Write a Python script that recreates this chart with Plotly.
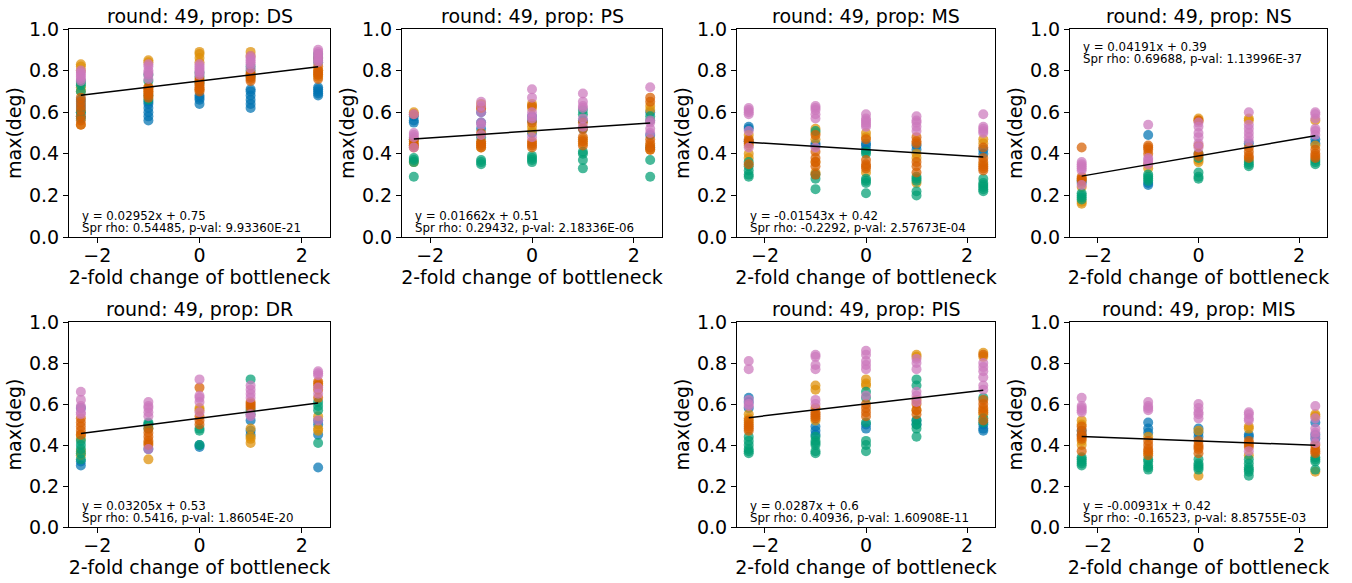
import plotly.graph_objects as go

# x positions: log2 fold change of bottleneck
X_VALUES = [-2.3219, -1.0, 0.0, 1.0, 2.3219]
X_TICKS = [-2, 0, 2]
Y_TICKS = [0.0, 0.2, 0.4, 0.6, 0.8, 1.0]

COLOR_NAMES = ["blue", "orange", "green", "red", "pink"]
COLORS = {"blue": "#0173b2", "orange": "#de8f05", "green": "#029e73",
          "red": "#d55e00", "pink": "#cc78bc"}

# ---- DS ----
DS_BLUE = [[0.58, 0.60, 0.62, 0.64, 0.66], [0.56, 0.58, 0.60, 0.62, 0.64, 0.65],
           [0.64, 0.66, 0.67, 0.68], [0.62, 0.64, 0.66, 0.68, 0.70, 0.71],
           [0.68, 0.69, 0.70, 0.71, 0.72]]
DS_ORANGE = [[0.54, 0.70, 0.72, 0.80, 0.83, 0.82], [0.85, 0.84, 0.72, 0.70],
             [0.89, 0.88, 0.86, 0.84, 0.71], [0.89, 0.87, 0.78], [0.77, 0.78, 0.80, 0.86]]
DS_GREEN = [[0.57, 0.60, 0.73, 0.74, 0.75, 0.70], [0.66, 0.68, 0.75, 0.78],
            [0.77, 0.79, 0.74], [0.80, 0.77, 0.82], [0.84, 0.86, 0.88]]
DS_RED = [[0.54, 0.56, 0.58, 0.61, 0.63, 0.65, 0.67], [0.67, 0.68, 0.69, 0.70, 0.71, 0.72],
          [0.70, 0.72, 0.73, 0.74, 0.75, 0.76, 0.71], [0.75, 0.76, 0.77, 0.78, 0.79],
          [0.76, 0.78, 0.79, 0.80, 0.82]]
DS_PINK = [[0.75, 0.77, 0.78, 0.79, 0.80, 0.76], [0.76, 0.78, 0.80, 0.82, 0.83, 0.79],
           [0.78, 0.80, 0.81, 0.82, 0.83, 0.79], [0.81, 0.83, 0.84, 0.85, 0.86, 0.87],
           [0.85, 0.86, 0.87, 0.88, 0.89, 0.90, 0.84]]

# ---- PS ----
PS_BLUE = [[0.58, 0.56, 0.55, 0.47], [0.55, 0.52, 0.60], [0.56, 0.58, 0.50],
           [0.52, 0.56], [0.43, 0.60, 0.49]]
PS_ORANGE = [[0.60, 0.46, 0.44, 0.36], [0.64, 0.62, 0.45, 0.43], [0.64, 0.62, 0.53, 0.51],
             [0.47, 0.45], [0.63, 0.61, 0.44, 0.42]]
PS_GREEN = [[0.37, 0.36, 0.29, 0.38], [0.37, 0.36, 0.35, 0.48], [0.39, 0.38, 0.37, 0.36],
            [0.61, 0.59, 0.41, 0.40, 0.37, 0.33], [0.37, 0.29, 0.56, 0.58]]
PS_RED = [[0.59, 0.47, 0.45, 0.43, 0.44], [0.44, 0.46, 0.45, 0.43, 0.50, 0.62],
          [0.46, 0.45, 0.44, 0.43, 0.63, 0.55], [0.44, 0.46, 0.48, 0.52, 0.55],
          [0.67, 0.65, 0.47, 0.45, 0.43, 0.42]]
PS_PINK = [[0.50, 0.49, 0.48, 0.43, 0.59], [0.65, 0.63, 0.60, 0.55, 0.54, 0.49],
           [0.71, 0.67, 0.60, 0.58, 0.57, 0.48], [0.69, 0.65, 0.63, 0.57, 0.53, 0.62],
           [0.72, 0.56, 0.55, 0.52, 0.50]]

# ---- MS ----
MS_BLUE = [[0.53, 0.52, 0.46], [0.44, 0.45], [0.45, 0.44, 0.42], [0.44, 0.42], [0.42, 0.40]]
MS_ORANGE = [[0.49, 0.44, 0.38, 0.40], [0.52, 0.50, 0.47, 0.31, 0.36], [0.48, 0.50, 0.31],
             [0.40, 0.26, 0.38], [0.47, 0.45, 0.35]]
MS_GREEN = [[0.36, 0.34, 0.32, 0.30, 0.29], [0.51, 0.30, 0.28, 0.23],
            [0.41, 0.40, 0.28, 0.27, 0.26, 0.21], [0.29, 0.28, 0.27, 0.20, 0.22],
            [0.28, 0.26, 0.25, 0.24, 0.23, 0.22]]
MS_RED = [[0.47, 0.46, 0.45, 0.35], [0.49, 0.41, 0.38, 0.36, 0.34, 0.30],
          [0.47, 0.37, 0.35, 0.34, 0.33], [0.48, 0.46, 0.45, 0.36, 0.34, 0.31],
          [0.43, 0.38, 0.36, 0.34, 0.33, 0.32]]
MS_PINK = [[0.62, 0.61, 0.60, 0.59, 0.51, 0.43], [0.63, 0.62, 0.61, 0.59, 0.57, 0.43],
           [0.59, 0.57, 0.56, 0.55, 0.54, 0.53], [0.58, 0.56, 0.55, 0.53, 0.51],
           [0.59, 0.53, 0.52, 0.51, 0.50]]

# ---- NS ----
NS_BLUE = [[0.26, 0.27], [0.49, 0.26, 0.25], [0.40], [0.45], [0.47, 0.45]]
NS_ORANGE = [[0.28, 0.24, 0.16, 0.17], [0.35, 0.33], [0.57, 0.56, 0.37, 0.36],
             [0.57, 0.56, 0.37], [0.56, 0.44]]
NS_GREEN = [[0.21, 0.20, 0.19, 0.18], [0.30, 0.29, 0.28, 0.27], [0.38, 0.31, 0.29, 0.28],
            [0.36, 0.35, 0.34], [0.37, 0.36, 0.35]]
NS_RED = [[0.43, 0.29, 0.28, 0.27], [0.44, 0.43, 0.42, 0.40], [0.44, 0.40, 0.39, 0.56],
          [0.43, 0.41, 0.39, 0.38], [0.42, 0.40, 0.39, 0.38]]
NS_PINK = [[0.36, 0.35, 0.34, 0.33, 0.32, 0.25], [0.54, 0.38, 0.37, 0.36, 0.35],
           [0.55, 0.53, 0.50, 0.48, 0.45, 0.43], [0.60, 0.54, 0.52, 0.50, 0.48, 0.46],
           [0.60, 0.59, 0.57, 0.52, 0.51, 0.49]]

# ---- DR ----
DR_BLUE = [[0.58, 0.30, 0.32], [0.38, 0.50], [0.40, 0.39], [0.47, 0.45, 0.52],
           [0.50, 0.45, 0.29, 0.52]]
DR_ORANGE = [[0.45, 0.43, 0.35, 0.37], [0.41, 0.33], [0.58, 0.57],
             [0.48, 0.44, 0.43, 0.41], [0.54, 0.48, 0.47, 0.70]]
DR_GREEN = [[0.42, 0.40, 0.38, 0.33, 0.36], [0.51, 0.50, 0.48], [0.47, 0.48, 0.40],
            [0.72, 0.57, 0.55], [0.61, 0.59, 0.57, 0.41]]
DR_RED = [[0.53, 0.51, 0.49, 0.47, 0.45], [0.48, 0.46, 0.44, 0.42, 0.40],
          [0.68, 0.54, 0.52, 0.50], [0.61, 0.60, 0.59, 0.58], [0.71, 0.69, 0.67, 0.63]]
DR_PINK = [[0.66, 0.62, 0.59, 0.58, 0.56, 0.55], [0.61, 0.59, 0.58, 0.56, 0.54, 0.38],
           [0.72, 0.64, 0.63, 0.61, 0.56], [0.69, 0.67, 0.65, 0.63, 0.55, 0.54],
           [0.76, 0.75, 0.74, 0.68, 0.65, 0.52]]

# ---- PIS ----
PIS_BLUE = [[0.63, 0.61, 0.58], [0.49, 0.47, 0.45], [0.48, 0.50], [0.50, 0.52],
            [0.48, 0.47, 0.50]]
PIS_ORANGE = [[0.55, 0.53, 0.51], [0.69, 0.67, 0.52], [0.72, 0.70, 0.69],
              [0.84, 0.83, 0.57], [0.85, 0.83, 0.57, 0.55]]
PIS_GREEN = [[0.44, 0.42, 0.40, 0.38, 0.37, 0.36], [0.44, 0.42, 0.41, 0.40, 0.37, 0.36],
             [0.66, 0.63, 0.51, 0.42, 0.40, 0.37], [0.72, 0.69, 0.52, 0.50, 0.48, 0.44],
             [0.63, 0.53, 0.51]]
PIS_RED = [[0.52, 0.50, 0.49, 0.48, 0.47], [0.58, 0.56, 0.55, 0.54, 0.53],
           [0.60, 0.58, 0.56, 0.54], [0.62, 0.60, 0.57, 0.55],
           [0.84, 0.62, 0.60, 0.58, 0.56, 0.52]]
PIS_PINK = [[0.81, 0.77, 0.62, 0.60, 0.59], [0.84, 0.83, 0.79, 0.77, 0.62, 0.60],
            [0.86, 0.84, 0.81, 0.79, 0.77, 0.64], [0.82, 0.80, 0.77, 0.66, 0.64, 0.61],
            [0.80, 0.78, 0.76, 0.73, 0.69, 0.67]]

# ---- MIS ----
MIS_BLUE = [[0.45, 0.47], [0.51, 0.48, 0.46], [0.48, 0.46, 0.44], [0.45, 0.44],
            [0.51, 0.45, 0.43]]
MIS_ORANGE = [[0.52, 0.50, 0.42, 0.40], [0.44, 0.36], [0.47, 0.25], [0.49, 0.48, 0.35],
              [0.55, 0.54, 0.27]]
MIS_GREEN = [[0.34, 0.33, 0.32, 0.31, 0.30], [0.33, 0.32, 0.30, 0.29, 0.28],
             [0.33, 0.31, 0.30, 0.29, 0.28], [0.33, 0.31, 0.29, 0.28, 0.27, 0.25],
             [0.34, 0.33, 0.32, 0.28]]
MIS_RED = [[0.49, 0.47, 0.45, 0.44, 0.43, 0.37], [0.42, 0.40, 0.38, 0.37, 0.35],
           [0.42, 0.40, 0.39, 0.38, 0.36], [0.42, 0.41, 0.40, 0.39], [0.40, 0.38, 0.37, 0.36]]
MIS_PINK = [[0.63, 0.59, 0.58, 0.57, 0.56], [0.61, 0.59, 0.58, 0.57],
            [0.60, 0.58, 0.56, 0.55, 0.53], [0.56, 0.55, 0.53, 0.52, 0.37],
            [0.59, 0.53, 0.48, 0.46, 0.44, 0.41]]

PROP_NAMES = ["DS", "PS", "MS", "NS", "DR", "PIS", "MIS"]
SLOPES = [0.02952, 0.01662, -0.01543, 0.04191, 0.03205, 0.0287, -0.00931]
INTERCEPTS = [0.75, 0.51, 0.42, 0.39, 0.53, 0.6, 0.42]
RHOS = [0.54485, 0.29432, -0.2292, 0.69688, 0.5416, 0.40936, -0.16523]
PVALS = [9.93360e-21, 2.18336e-06, 2.57673e-04, 1.13996e-37, 1.86054e-20,
         1.60908e-11, 8.85755e-03]
TEXT_AT_TOP = [False, False, False, True, False, False, False]

SERIES = {
    "DS": [DS_BLUE, DS_ORANGE, DS_GREEN, DS_RED, DS_PINK],
    "PS": [PS_BLUE, PS_ORANGE, PS_GREEN, PS_RED, PS_PINK],
    "MS": [MS_BLUE, MS_ORANGE, MS_GREEN, MS_RED, MS_PINK],
    "NS": [NS_BLUE, NS_ORANGE, NS_GREEN, NS_RED, NS_PINK],
    "DR": [DR_BLUE, DR_ORANGE, DR_GREEN, DR_RED, DR_PINK],
    "PIS": [PIS_BLUE, PIS_ORANGE, PIS_GREEN, PIS_RED, PIS_PINK],
    "MIS": [MIS_BLUE, MIS_ORANGE, MIS_GREEN, MIS_RED, MIS_PINK],
}

# ---- layout geometry (pixels) ----
W, H = 1352, 583
COL_PX = [(69, 330), (402, 662), (737, 995), (1070, 1327)]
ROW_PX = [(29, 237), (322, 527)]
# (row, col) for each panel; row 2 col 2 is empty
POSITIONS = [(0, 0), (0, 1), (0, 2), (0, 3), (1, 0), (1, 2), (1, 3)]

FONT = "DejaVu Sans"
fig = go.Figure()
layout = dict(width=W, height=H,
              margin=dict(l=0, r=0, t=0, b=0, pad=0, autoexpand=False),
              paper_bgcolor="white", plot_bgcolor="white", showlegend=False,
              font=dict(family=FONT, color="black"), annotations=[])

for i, prop in enumerate(PROP_NAMES):
    r, c = POSITIONS[i]
    idx = "" if i == 0 else str(i + 1)
    xa, ya = "x" + idx, "y" + idx
    x0, x1 = COL_PX[c]
    y0, y1 = ROW_PX[r]
    xdom = [x0 / W, x1 / W]
    ydom = [1 - y1 / H, 1 - y0 / H]

    for ci, cname in enumerate(COLOR_NAMES):
        groups = SERIES[prop][ci]
        xs, ys = [], []
        for xv, vals in zip(X_VALUES, groups):
            xs += [xv] * len(vals)
            ys += vals
        fig.add_trace(go.Scatter(x=xs, y=ys, mode="markers", xaxis=xa, yaxis=ya,
                                 marker=dict(size=10, color=COLORS[cname], opacity=0.72,
                                             line=dict(width=0)),
                                 hoverinfo="skip"))
    lx = [min(X_VALUES), max(X_VALUES)]
    ly = [SLOPES[i] * v + INTERCEPTS[i] for v in lx]
    fig.add_trace(go.Scatter(x=lx, y=ly, mode="lines", xaxis=xa, yaxis=ya,
                             line=dict(color="black", width=1.5), hoverinfo="skip"))

    axis_common = dict(showline=True, linecolor="black", linewidth=1, mirror=True,
                       ticks="outside", ticklen=5, tickwidth=1, tickcolor="black",
                       showgrid=False, zeroline=False, automargin=False,
                       tickfont=dict(family=FONT, size=19, color="black"))
    layout["xaxis" + idx] = dict(axis_common, domain=xdom, anchor=ya,
                                 range=[-2.554, 2.554], tickvals=X_TICKS,
                                 ticklabelstandoff=-4,
                                 title=dict(text="2-fold change of bottleneck",
                                            font=dict(family=FONT, size=19), standoff=2))
    layout["yaxis" + idx] = dict(axis_common, domain=ydom, anchor=xa,
                                 range=[0, 1], tickvals=Y_TICKS, tickformat=".1f",
                                 title=dict(text="max(deg)",
                                            font=dict(family=FONT, size=19), standoff=2))

    layout["annotations"].append(dict(
        text=f"round: 49, prop: {prop}", xref=xa + " domain", yref=ya + " domain",
        x=0.5, y=1, xanchor="center", yanchor="bottom", yshift=0, showarrow=False,
        font=dict(family=FONT, size=19, color="black")))
    line1 = f"y = {SLOPES[i]}x + {INTERCEPTS[i]}"
    line2 = f"Spr rho: {RHOS[i]}, p-val: {PVALS[i]:.5E}"
    if TEXT_AT_TOP[i]:
        placements = [(line1, 1, -18), (line2, 1, -30)]
    else:
        placements = [(line1, 0, 21), (line2, 0, 9)]
    for txt, yy, shift in placements:
        layout["annotations"].append(dict(
            text=txt, xref=xa + " domain", yref=ya + " domain",
            x=0.043, y=yy, yshift=shift, xanchor="left", yanchor="middle",
            align="left", showarrow=False,
            font=dict(family=FONT, size=11.8, color="black")))

fig.update_layout(**layout)
fig.write_html("out.html")
